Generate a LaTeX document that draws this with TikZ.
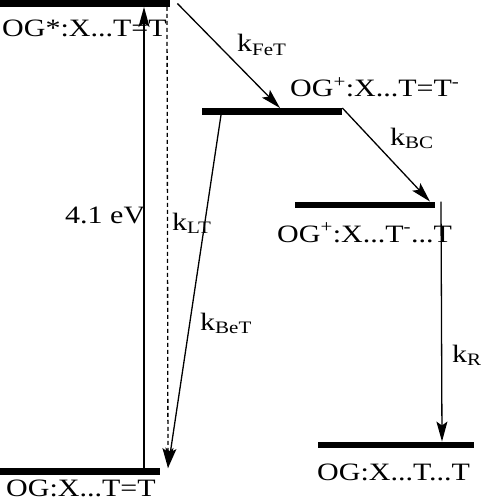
\documentclass[tikz,border=0pt]{standalone}
\usepackage{fontspec}
\setmainfont{Liberation Serif}[FakeStretch=1.2]
\usetikzlibrary{arrows.meta}

\begin{document}
\begin{tikzpicture}[x=1pt, y=-1pt,
    level/.style={fill=black, inner sep=0pt, minimum height=6.5pt, anchor=west},
    lbl/.style={inner sep=0pt, anchor=base west, font=\fontsize{25}{25}\selectfont},
    rate/.style={line width=1.3pt, -{Stealth[length=20pt, width=11pt, inset=4pt]}}]
  \useasboundingbox (0,0) rectangle (482,500);
  % energy levels
  \node[level, minimum width=170pt] (s1) at (0,3.5) {};
  \node[level, minimum width=140pt] (s2) at (202,111.5) {};
  \node[level, minimum width=140pt] (s3) at (295,205) {};
  \node[level, minimum width=160pt] (s0) at (0,471.5) {};
  \node[level, minimum width=156pt] (s4) at (318,445) {};
  % state labels
  \node[lbl] (l1) at (2,37) {OG*:X...T=T};
  \node[lbl] (l2) at (290,97) {OG\textsuperscript{+}:X...T=T\textsuperscript{-}};
  \node[lbl] (l3) at (277,242) {OG\textsuperscript{+}:X...T\textsuperscript{-}...T};
  \node[lbl] (l0) at (6,496) {OG:X...T=T};
  \node[lbl] (l4) at (317,480) {OG:X...T...T};
  % rates
  \node[lbl] (ev) at (65,223) {4.1 eV};
  \node[lbl] (kfet) at (237,52) {k\textsubscript{FeT}};
  \node[lbl] (kbc) at (390,145) {k\textsubscript{BC}};
  \node[lbl] (klt) at (172,230) {k\textsubscript{LT}};
  \node[lbl] (kbet) at (200,330) {k\textsubscript{BeT}};
  \node[lbl] (kr) at (452,362) {k\textsubscript{R}};
  % transitions
  \draw[rate] ([xshift=144pt]s0.north west) -- ([xshift=144pt]s1.south west);
  \draw[rate, dash pattern=on 4pt off 3pt] ([xshift=167pt]s1.south west) -- ([xshift=168pt]s0.north west);
  \draw[rate] ([xshift=19pt]s2.south west) -- ([xshift=168pt]s0.north west);
  \draw[rate] ([xshift=7pt]s1.east) -- ([xshift=78pt]s2.north west);
  \draw[rate] (s2.north east) -- ([xshift=135pt]s3.north west);
  \draw[rate] ([xshift=146pt]s3.north west) -- ([xshift=124pt]s4.north west);
\end{tikzpicture}
\end{document}
